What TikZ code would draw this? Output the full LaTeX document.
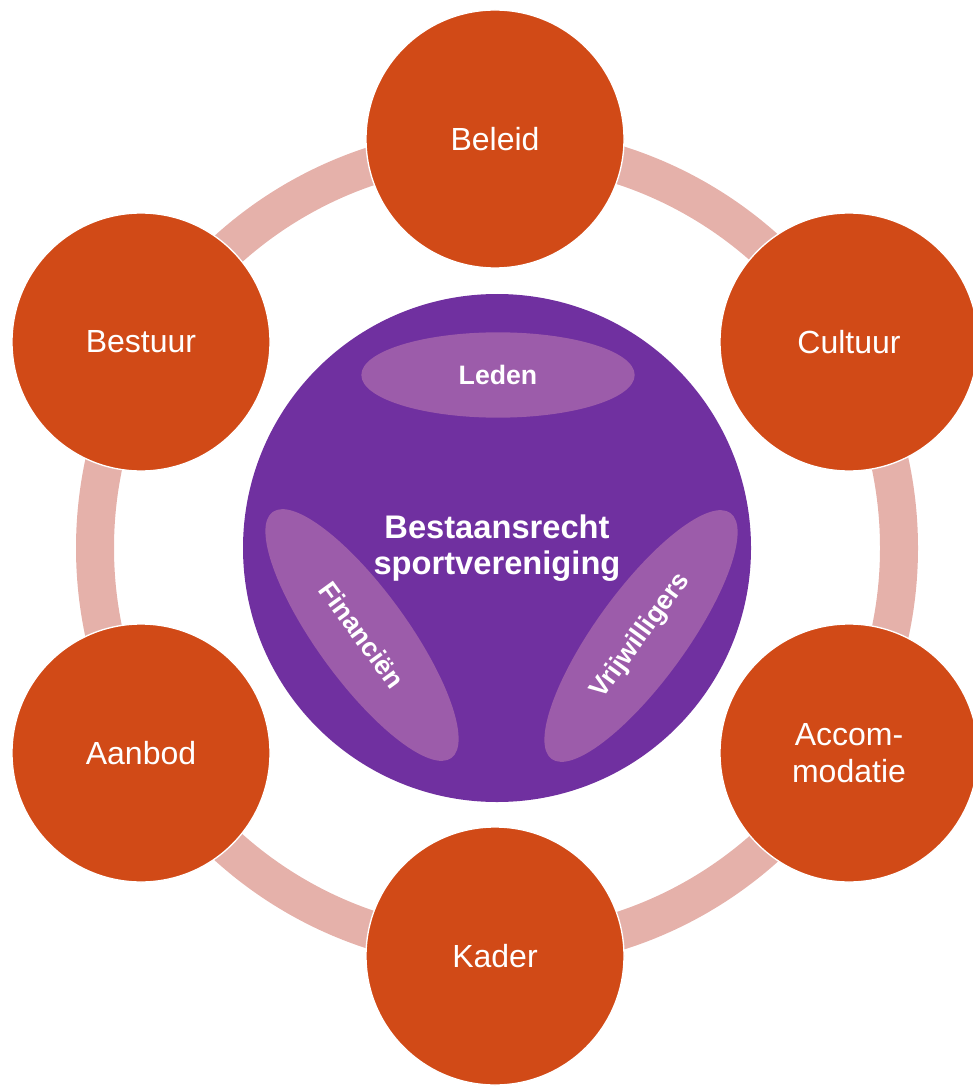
\documentclass[tikz,border=0pt]{standalone}
\usepackage{fontspec}
\setmainfont{Liberation Sans}
\usetikzlibrary{shapes.geometric}

\definecolor{ringpink}{RGB}{229,177,170}
\definecolor{rust}{RGB}{209,74,23}
\definecolor{deeppurple}{RGB}{112,48,160}
\definecolor{lilac}{RGB}{156,92,170}

\begin{document}
\begin{tikzpicture}[x=0.75pt,y=0.75pt,yscale=-1,xscale=1,
  pillar/.style={circle,fill=rust,draw=white,line width=1pt,minimum size=193.5pt,inner sep=0pt,text=white,align=center,font=\fontsize{24}{28}\selectfont},
  core/.style={circle,fill=deeppurple,minimum size=381pt,inner sep=0pt},
  blob/.style={ellipse,fill=lilac,minimum width=205pt,minimum height=64pt,inner sep=0pt,text=white,font=\bfseries\fontsize{20}{24}\selectfont},
  longblob/.style={blob,minimum width=228pt,minimum height=68pt}]
\useasboundingbox (0,0) rectangle (972,1087);

%Ring behind the circles
\draw [ringpink, line width=28.5pt] (497,548) circle (402) ;

%Outer circles
\node [pillar] (beleid) at (495,139) {Beleid};
\node [pillar] (cultuur) at (849,342) {Cultuur};
\node [pillar] (accommodatie) at (849,753) {Accom-\\modatie};
\node [pillar] (kader) at (495,956) {Kader};
\node [pillar] (aanbod) at (141,753) {Aanbod};
\node [pillar] (bestuur) at (141,342) {Bestuur};

%Central circle
\node [core] (kern) at (497,548) {};

% Ellipses
\node [blob] (leden) at (498,375) {Leden};
\node [longblob, rotate=-54] (financien) at (362,635) {Financiën};
\node [longblob, rotate=54] (vrijwilligers) at (641,636) {Vrijwilligers};

% Text Node
\node [text=white, align=center, font=\bfseries\fontsize{24.5}{27}\selectfont] (bestaansrecht) at (kern) {Bestaansrecht\\sportvereniging};

\end{tikzpicture}
\end{document}
